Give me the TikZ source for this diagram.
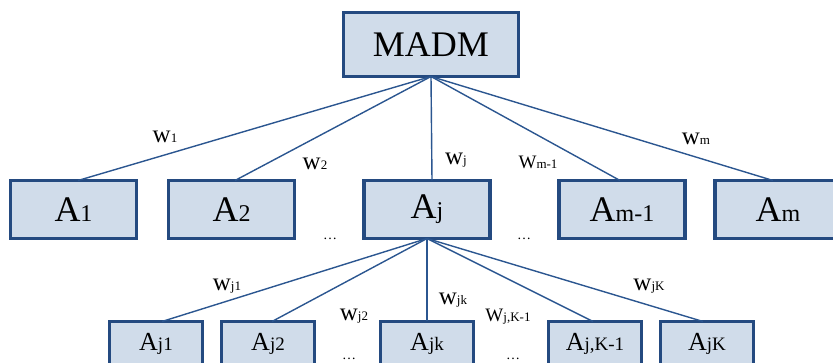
\documentclass[tikz,border=0pt]{standalone}
\usepackage{fontspec}
\setmainfont{Liberation Serif}
\definecolor{boxfill}{HTML}{D0DCEA}
\definecolor{boxline}{HTML}{244A80}
\definecolor{linkcol}{HTML}{2B5690}
\newcommand{\topA}[1]{{\fontsize{36}{40}\selectfont A\fontsize{24}{28}\selectfont #1}}
\newcommand{\botA}[1]{{\fontsize{26}{30}\selectfont A\fontsize{19}{22}\selectfont #1}}
\newcommand{\wlab}[2]{{\fontsize{25}{28}\selectfont #1\fontsize{13}{15}\selectfont #2}}
\begin{document}
\begin{tikzpicture}[x=1pt,y=-1pt,
  box/.style={draw=boxline, fill=boxfill, line width=3.3pt, inner sep=0pt, outer sep=0pt},
  topbox/.style={box, minimum width=126pt, minimum height=58pt},
  botbox/.style={box, minimum width=93pt, minimum height=45pt},
  link/.style={draw=linkcol, line width=1.4pt},
  lab/.style={inner sep=0pt, text=black},
  dots/.style={inner sep=0pt, font=\fontsize{14}{16}\selectfont}]
\useasboundingbox (0,0) rectangle (833,363);
% root
\node[box, minimum width=175pt, minimum height=64pt] (madm) at (431,44.5) {\fontsize{36}{40}\selectfont MADM};
% top row
\node[topbox] (a1) at (73.5,209.5) {\topA{1}};
\node[topbox] (a2) at (231.5,209.5) {\topA{2}};
\node[topbox] (aj) at (427,209.5) {\topA{j}};
\node[topbox] (am1) at (622,209.5) {\topA{m-1}};
\node[topbox] (am) at (778,209.5) {\topA{m}};
% bottom row
\node[botbox] (aj1) at (156,344) {\botA{j1}};
\node[botbox] (aj2) at (268,344) {\botA{j2}};
\node[botbox] (ajk) at (427,344) {\botA{jk}};
\node[botbox] (ajK1) at (595,344) {\botA{j,K-1}};
\node[botbox] (ajK) at (707,344) {\botA{jK}};
% links top
\draw[link] (madm.south) -- ([xshift=4.5pt]a1.north);
\draw[link] (madm.south) -- ([xshift=3.5pt]a2.north);
\draw[link] (madm.south) -- ([xshift=5pt]aj.north);
\draw[link] (madm.south) -- ([xshift=-2pt]am1.north);
\draw[link] (madm.south) -- ([xshift=-5pt]am.north);
% links bottom
\draw[link] (aj.south) -- ([xshift=6pt]aj1.north);
\draw[link] (aj.south) -- ([xshift=4pt]aj2.north);
\draw[link] (aj.south) -- (ajk.north);
\draw[link] (aj.south) -- ([xshift=-2pt]ajK1.north);
\draw[link] (aj.south) -- ([xshift=-4pt]ajK.north);
% labels top
\node[lab] (w1) at (165,137) {\wlab{w}{1}};
\node[lab] (w2) at (315,164) {\wlab{w}{2}};
\node[lab] (wj) at (456,160) {\wlab{w}{j}};
\node[lab] (wm1) at (538,162) {{\fontsize{19}{22}\selectfont W\fontsize{13}{15}\selectfont m-1}};
\node[lab] (wm) at (696,139) {\wlab{w}{m}};
\node[dots] (d1) at (330,239) {\dots};
\node[dots] (d2) at (524,239) {\dots};
% labels bottom
\node[lab] (wj1) at (227,286) {\wlab{w}{j1}};
\node[lab] (wj2) at (354,316) {\wlab{w}{j2}};
\node[lab] (wjk) at (453,300) {\wlab{w}{jk}};
\node[lab] (wjK1) at (508,317) {{\fontsize{19}{22}\selectfont W\fontsize{13}{15}\selectfont j,K-1}};
\node[lab] (wjK) at (649,286) {\wlab{w}{jK}};
\node[dots] (d3) at (349,359) {\dots};
\node[dots] (d4) at (513,359) {\dots};
\end{tikzpicture}
\end{document}
